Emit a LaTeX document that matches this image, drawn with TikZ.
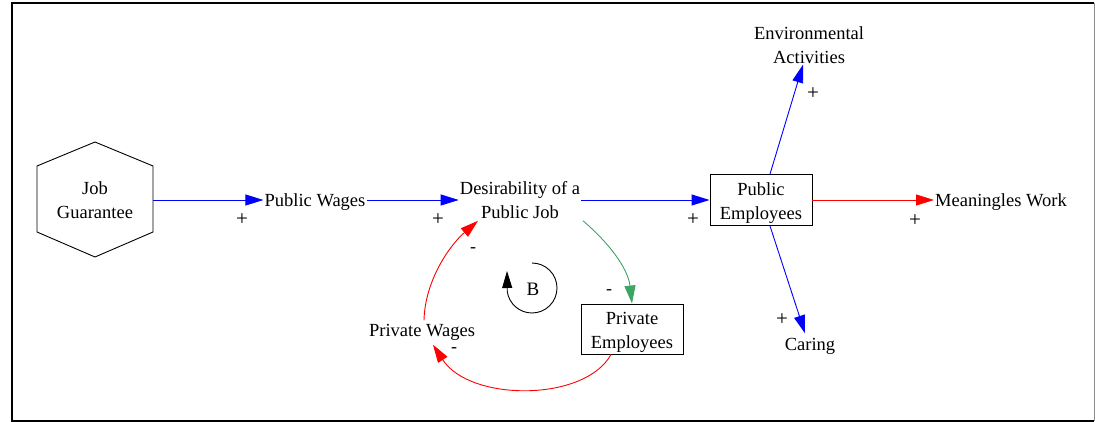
\documentclass[tikz,border=0pt]{standalone}
\usepackage{fontspec}
\setmainfont{Liberation Serif}
\usetikzlibrary{arrows.meta}
\definecolor{lnkblue}{RGB}{0,0,255}
\definecolor{lnkred}{RGB}{255,0,0}
\definecolor{lnkgreen}{RGB}{60,165,100}
\begin{document}
\begin{tikzpicture}[x=1pt,y=-1pt,
  lbl/.style={font=\fontsize{18.5}{24}\selectfont, align=center, inner sep=1pt},
  onel/.style={lbl, text height=17pt, text depth=4pt},
  boxnode/.style={lbl, draw, line width=0.9pt, minimum width=102pt, minimum height=51pt, text height=43pt, text depth=4pt},
  lnk/.style={line width=0.9pt, -{Triangle[length=18pt,width=11pt]}},
  sgn/.style={font=\fontsize{21}{21}\selectfont, inner sep=0pt},
  msgn/.style={font=\fontsize{18}{18}\selectfont, inner sep=0pt},
]
\useasboundingbox (0,0) rectangle (1095,422);
% frame
\draw[line width=1.6pt] (1094,421) -- (12,421) -- (12,3) -- (1094,3);
\draw[line width=1pt, black!45] (1094,3) -- (1094,421);

% hexagon
\draw[line width=0.9pt] (95,142) -- (153,166) -- (153,232) -- (95,257) -- (37,232) -- (37,166) -- cycle;
\node[lbl, minimum width=116pt, inner sep=0pt] (jg) at (95,200) {Job\\Guarantee};
\node[onel] (pw) at (315,200) {Public Wages};
\node[lbl] (dj) at (520,200) {Desirability of a\\Public Job};
\node[boxnode] (pe) at (761,200) {Public\\Employees};
\node[onel, anchor=west] (mw) at (934,200) {Meaningles Work};
\node[lbl] (ea) at (809,45) {Environmental\\Activities};
\node[onel] (ca) at (810,344) {Caring};
\node[boxnode, minimum height=50pt] (pre) at (632,329) {Private\\Employees};
\node[onel] (pwg) at (422,330) {Private Wages};

% links
\draw[lnk, lnkblue] (jg.east) -- (pw.west);
\draw[lnk, lnkblue] (pw.east) -- (dj.west);
\draw[lnk, lnkblue] (dj.east) -- (pe.west);
\draw[lnk, lnkred] (pe.east) -- (mw.west);
\draw[lnk, lnkblue] ([xshift=9pt]pe.north) -- ([xshift=-6pt]ea.south);
\draw[lnk, lnkblue] ([xshift=9pt]pe.south) -- ([xshift=-5pt,yshift=-1pt]ca.north);
\draw[lnk, lnkgreen] ([xshift=63pt,yshift=-1pt]dj.south) .. controls (608,242) and (628,268) .. (pre.north);
\draw[lnk, lnkred] ([xshift=-21pt]pre.south) .. controls (585,402) and (470,402) .. ([xshift=11pt,yshift=-3pt]pwg.south);
\draw[lnk, lnkred] ([xshift=2pt,yshift=-2pt]pwg.north) .. controls (425,280) and (450,245) .. ([xshift=-42pt,yshift=-1pt]dj.south);

% loop symbol
\coordinate (lc) at (532,288);
\draw[line width=0.9pt, -{Triangle[length=17pt,width=10pt]}] (532,263) arc[start angle=-90, end angle=172, radius=25] -- (507,271);
\node[lbl, font=\fontsize{19}{24}\selectfont] (bl) at (533,289) {B};

% polarity signs
\node[sgn] (s1) at (242,220) {+};
\node[sgn] (s2) at (438,220) {+};
\node[sgn] (s3) at (693,220) {+};
\node[sgn] (s4) at (915,221) {+};
\node[sgn] (s5) at (813,94) {+};
\node[sgn] (s6) at (782,320) {+};
\node[msgn] (s7) at (609,292) {-};
\node[msgn] (s8) at (473,250) {-};
\node[msgn] (s9) at (454,350) {-};
\end{tikzpicture}
\end{document}
